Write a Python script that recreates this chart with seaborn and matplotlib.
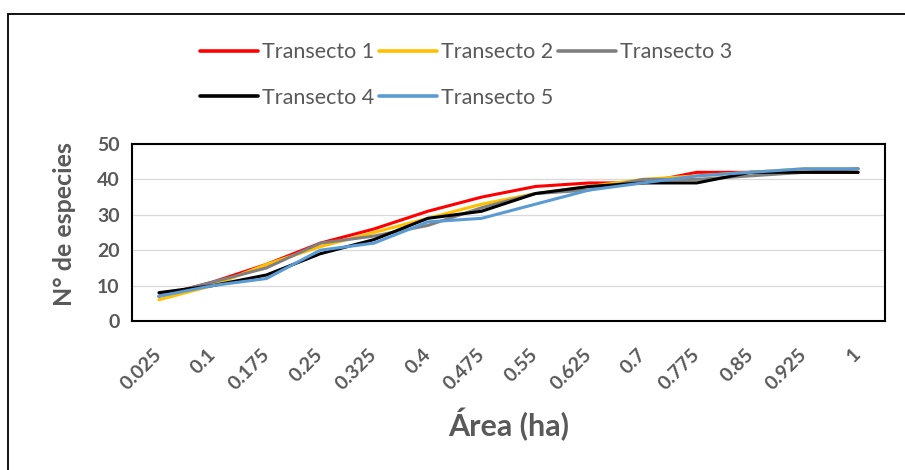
import matplotlib
matplotlib.use("Agg")
import matplotlib.pyplot as plt
import seaborn as sns
import pandas as pd
from matplotlib.patches import Rectangle

# Sampled area (ha) and cumulative species count per transect
area = [0.025, 0.1, 0.175, 0.25, 0.325, 0.4, 0.475, 0.55, 0.625, 0.7, 0.775, 0.85, 0.925, 1.0]
area_labels = ["0.025", "0.1", "0.175", "0.25", "0.325", "0.4", "0.475",
               "0.55", "0.625", "0.7", "0.775", "0.85", "0.925", "1"]
transecto_1 = [7, 11, 16, 22, 26, 31, 35, 38, 39, 39, 42, 42, 42, 42]
transecto_2 = [6, 10, 16, 21, 25, 29, 33, 36, 38, 40, 41, 42, 43, 43]
transecto_3 = [7, 11, 15, 22, 24, 27, 32, 36, 37, 40, 40, 41, 42, 43]
transecto_4 = [8, 10, 13, 19, 23, 29, 31, 36, 38, 39, 39, 42, 42, 42]
transecto_5 = [7, 10, 12, 20, 22, 28, 29, 33, 37, 39, 41, 42, 43, 43]
series_names = ["Transecto 1", "Transecto 2", "Transecto 3", "Transecto 4", "Transecto 5"]
y_ticks = [0, 10, 20, 30, 40, 50]

colors = ["#FF0000", "#FFC000", "#808080", "#000000", "#5B9BD5"]
text_gray = "#595959"

sns.set_theme(style="white")
plt.rcParams["font.family"] = ["Lato", "DejaVu Sans"]

rows = []
for name, vals in zip(series_names,
                      [transecto_1, transecto_2, transecto_3, transecto_4, transecto_5]):
    for a, v in zip(area, vals):
        rows.append({"area": a, "species": v, "transecto": name})
df = pd.DataFrame(rows)

fig = plt.figure(figsize=(9.05, 4.70), dpi=100)
ax = fig.add_axes([132 / 905, 1 - 321 / 470, (885 - 132) / 905, (321 - 144) / 470])

sns.lineplot(data=df, x="area", y="species", hue="transecto",
             hue_order=series_names, palette=colors, linewidth=2.2,
             ax=ax, legend=False)

step = 0.075
ax.set_xlim(area[0] - step / 2, area[-1] + step / 2)
ax.set_ylim(0, 50)
ax.set_yticks(y_ticks)
ax.set_yticklabels([str(t) for t in y_ticks])
ax.set_xticks(area)
ax.set_xticklabels(area_labels)

ax.grid(axis="y", color="#D9D9D9", linewidth=0.9)
ax.grid(axis="x", visible=False)
ax.set_axisbelow(True)
for sp in ax.spines.values():
    sp.set_visible(True)
    sp.set_color("#000000")
    sp.set_linewidth(1.5)

ax.tick_params(axis="both", length=0)
ax.tick_params(axis="y", pad=9, labelsize=14, labelcolor=text_gray)
ax.tick_params(axis="x", pad=22, labelsize=14, labelcolor=text_gray)
for lbl in ax.get_yticklabels():
    lbl.set_fontweight("bold")
for lbl in ax.get_xticklabels():
    lbl.set_fontweight("bold")
    lbl.set_rotation(45)
    lbl.set_rotation_mode("anchor")
    lbl.set_ha("right")
    lbl.set_va("center")

ax.set_xlabel("Área (ha)", fontsize=22, fontweight="bold", color=text_gray, labelpad=11)
ax.set_ylabel("N° de especies", fontsize=18, fontweight="bold", color=text_gray)
ax.yaxis.set_label_coords(-0.074, 0.55)

# Legend laid out in two rows: T1 T2 T3 / T4 T5
handles = [plt.Line2D([], [], color=c, linewidth=2.6) for c in colors]
order = [0, 3, 1, 4, 2]
leg = fig.legend([handles[i] for i in order], [series_names[i] for i in order],
                 loc="center", bbox_to_anchor=(466 / 905, 1 - 75 / 470), ncol=3,
                 frameon=False, fontsize=15.5, handlelength=2.7, handletextpad=0.2,
                 columnspacing=0.2, labelspacing=1.2)
for t in leg.get_texts():
    t.set_color(text_gray)

# Chart outer border
fig.patches.append(Rectangle((7.5 / 905, -0.1), 1.2, 1 - 13.5 / 470 + 0.1,
                             transform=fig.transFigure, fill=False,
                             edgecolor="#000000", linewidth=1.3))

fig.savefig("out.png", dpi=100)
